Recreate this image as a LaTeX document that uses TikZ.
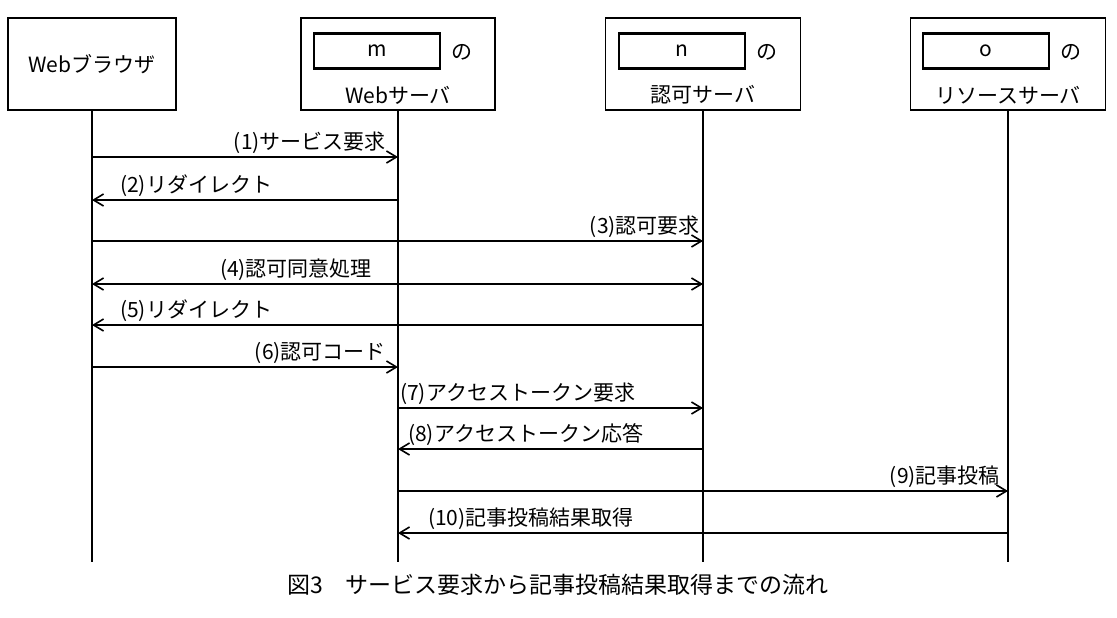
\documentclass[tikz,border=0pt]{standalone}
\usepackage{fontspec}
\setmainfont{Noto Sans CJK JP}
\usetikzlibrary{arrows.meta}
\begin{document}
\begin{tikzpicture}[x=1pt,y=-1pt,
  >={Straight Barb[length=10pt,width=12pt,line width=1.6pt]},
  every node/.style={font=\fontsize{21}{24}\selectfont},
  hdr/.style={draw,line width=1.5pt,minimum width=#1,minimum height=92pt,inner sep=0pt},
  inbox/.style={draw,line width=2.8pt,minimum width=126pt,minimum height=35pt,inner sep=0pt},
  life/.style={line width=1.6pt},
  msg/.style={line width=1.6pt,->}]
\useasboundingbox (0,0) rectangle (1117,618);
\node[hdr=168pt] (b) at (92,64) {Webブラウザ};
\node[hdr=194pt] (w) at (398,64) {};
\node[hdr=195pt] (a) at (703,64) {};
\node[hdr=195pt] (r) at (1008,64) {};
\node[inbox] (m) at (377,51) {m}; \node (mn) at (462,52) {の};
\node (wl) at (398,95) {Webサーバ};
\node[inbox] (n) at (682,51) {n}; \node (nn) at (767,52) {の};
\node (al) at (703,95) {認可サーバ};
\node[inbox] (o) at (986,51) {o}; \node (on) at (1071,52) {の};
\node (rl) at (1008,95) {リソースサーバ};
\coordinate (be) at (92,562); \coordinate (we) at (398,562);
\coordinate (ae) at (703,562); \coordinate (re) at (1008,562);
\draw[life] (b.south) -- (be); \draw[life] (w.south) -- (we);
\draw[life] (a.south) -- (ae); \draw[life] (r.south) -- (re);
\foreach \y/\s/\t/\lx/\an/\txt in {
 157/92/398/386/east/{(1)サービス要求},
 200/398/92/120/west/{(2)リダイレクト},
 241/92/703/700/east/{(3)認可要求},
 325/703/92/120/west/{(5)リダイレクト},
 367/92/398/386/east/{(6)認可コード},
 408/398/703/400/west/{(7)アクセストークン要求},
 449/703/398/408/west/{(8)アクセストークン応答},
 491/398/1008/1000/east/{(9)記事投稿},
 533/1008/398/428/west/{(10)記事投稿結果取得}}{
 \coordinate (s\y) at (\s,\y); \coordinate (t\y) at (\t,\y);
 \draw[msg] (s\y) -- (t\y);
 \node[inner sep=0pt,anchor=south \an] (l\y) at (\lx,\y-3) {\txt};
}
\coordinate (s284) at (92,284); \coordinate (t284) at (703,284);
\draw[line width=1.6pt,<->] (s284) -- (t284);
\node[inner sep=0pt,anchor=south] (l284) at (296,281) {(4)認可同意処理};
\node[font=\fontsize{23}{26}\selectfont] (cap) at (558,585) {図3\quad サービス要求から記事投稿結果取得までの流れ};
\end{tikzpicture}
\end{document}
